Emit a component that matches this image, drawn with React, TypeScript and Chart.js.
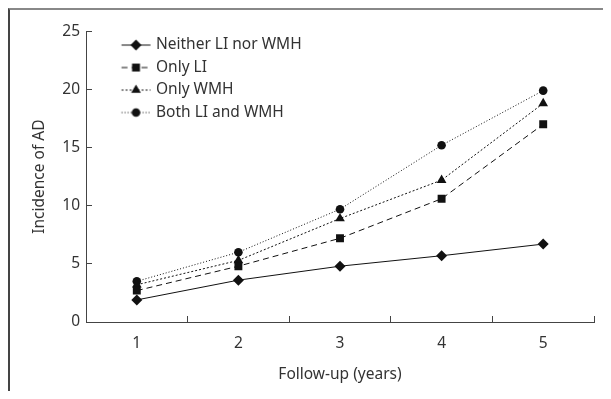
import React, { useEffect, useRef } from 'react';
import { Chart, registerables } from 'chart.js';
import { drawPoint } from 'chart.js/helpers';

Chart.register(...registerables);

const years = ['1', '2', '3', '4', '5'];
const neither = [1.9, 3.6, 4.8, 5.7, 6.7];
const onlyLI = [2.7, 4.8, 7.2, 10.6, 17.0];
const onlyWMH = [3.2, 5.3, 8.9, 12.2, 18.8];
const both = [3.5, 6.0, 9.7, 15.2, 19.9];
const seriesLabels = ['Neither LI nor WMH', 'Only LI', 'Only WMH', 'Both LI and WMH'];
const seriesValues = [neither, onlyLI, onlyWMH, both];

const xTitle = 'Follow-up (years)';
const yTitle = 'Incidence of AD';

const FONT = '"Noto Sans", "DejaVu Sans", sans-serif';
const FS = 15.5;
const TEXT = '#333333';
const AXIS = '#444444';

const looks = [
  { pointStyle: 'rectRot', radius: 5.5, dash: [] as number[] },
  { pointStyle: 'rect', radius: 5.6, dash: [6, 4] },
  { pointStyle: 'triangle', radius: 5.6, dash: [2, 2] },
  { pointStyle: 'circle', radius: 4.3, dash: [1, 2] },
];

function legendImage(idx: number): HTMLCanvasElement {
  const c = document.createElement('canvas');
  c.width = 62;
  c.height = 16;
  const ctx = c.getContext('2d')!;
  const cx = 46.4;
  const cy = 8;
  ctx.strokeStyle = '#111';
  ctx.lineWidth = 1;
  ctx.setLineDash(looks[idx].dash);
  ctx.beginPath();
  ctx.moveTo(cx - 14.5, cy);
  ctx.lineTo(cx + 14.5, cy);
  ctx.stroke();
  ctx.setLineDash([]);
  ctx.fillStyle = '#111';
  drawPoint(ctx as any, { pointStyle: looks[idx].pointStyle as any, radius: looks[idx].radius, rotation: 0, borderWidth: 0 } as any, cx, cy);
  return c;
}

const legendIntoArea = {
  id: 'legendIntoArea',
  afterLayout(chart: any) {
    const l = chart.legend;
    if (!l) return;
    const h = l.height;
    l.top = chart.chartArea.top - 1;
    l.bottom = l.top + h;
  },
};

export default function App() {
  const ref = useRef<HTMLCanvasElement>(null);

  useEffect(() => {
    if (!ref.current) return;
    const images = looks.map((_, i) => legendImage(i));
    const chart = new Chart(ref.current, {
      type: 'line',
      data: {
        labels: years,
        datasets: seriesValues.map((vals, i) => ({
          label: seriesLabels[i],
          data: vals,
          borderColor: '#111',
          backgroundColor: '#111',
          borderWidth: 1,
          borderDash: looks[i].dash,
          pointStyle: looks[i].pointStyle as any,
          pointRadius: looks[i].radius,
          pointBorderWidth: 0,
          pointBackgroundColor: '#111',
          fill: false,
          tension: 0,
        })),
      },
      plugins: [legendIntoArea],
      options: {
        responsive: false,
        animation: false,
        devicePixelRatio: 1,
        layout: { padding: { top: 19, right: 9, bottom: 0, left: 0 } },
        plugins: {
          tooltip: { enabled: false },
          legend: {
            position: 'chartArea' as any,
            align: 'start',
            labels: {
              usePointStyle: true,
              pointStyleWidth: 55.25,
              padding: 7,
              color: TEXT,
              font: { family: FONT, size: FS },
              generateLabels: (ch: any) =>
                ch.data.datasets.map((ds: any, i: number) => ({
                  text: ds.label,
                  pointStyle: images[i],
                  fillStyle: 'rgba(0,0,0,0)',
                  strokeStyle: 'rgba(0,0,0,0)',
                  lineWidth: 0,
                  fontColor: TEXT,
                  hidden: false,
                  datasetIndex: i,
                })),
            },
          },
        },
        scales: {
          x: {
            type: 'category',
            offset: true,
            afterFit: (s: any) => { s.height = 69; },
            grid: { offset: true, drawOnChartArea: false, tickLength: -6, color: AXIS },
            border: { color: AXIS, width: 1 },
            ticks: { color: TEXT, font: { family: FONT, size: FS }, padding: 18, maxRotation: 0 },
            title: { display: true, text: xTitle, color: TEXT, font: { family: FONT, size: FS }, padding: { top: 4, bottom: 7 } },
          },
          y: {
            min: 0,
            max: 25,
            afterFit: (s: any) => { s.width = 76; },
            grid: { drawOnChartArea: false, tickLength: -6, color: AXIS },
            border: { color: AXIS, width: 1 },
            ticks: { stepSize: 5, color: TEXT, font: { family: FONT, size: FS }, padding: 12 },
            title: { display: true, text: yTitle, color: TEXT, font: { family: FONT, size: FS }, padding: { top: 20, bottom: 0 } },
          },
        },
      },
    });
    return () => chart.destroy();
  }, []);

  return (
    <div
      style={{
        width: 595,
        height: 383,
        boxSizing: 'border-box',
        borderTop: '2px solid #888',
        borderLeft: '2px solid #444',
        overflow: 'hidden',
        background: '#fff',
      }}
    >
      <canvas ref={ref} width={593} height={381} style={{ display: 'block' }} />
    </div>
  );
}
